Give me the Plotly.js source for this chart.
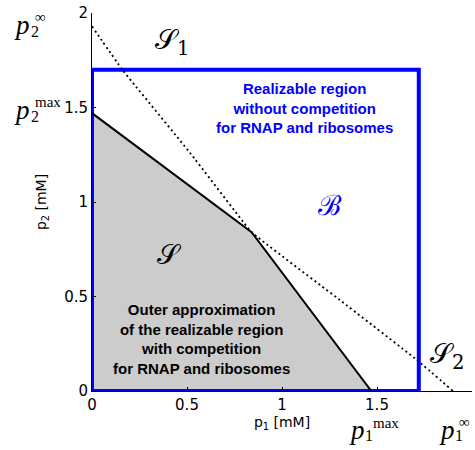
<!DOCTYPE html>
<html><head><meta charset="utf-8">
<script src="https://cdn.plot.ly/plotly-3.0.1.min.js"></script>
<style>html,body{margin:0;padding:0;background:#fff}#chart{width:475px;height:450px}</style>
</head><body><div id="chart"></div>
<script>
// Outer approximation region S (with competition)
const regionX = [0, 0, 0.84, 1.47, 0];
const regionY = [0, 1.47, 0.84, 0, 0];
// Boundary of S (black line)
const boundaryX = [0, 0.84, 1.47];
const boundaryY = [1.47, 0.84, 0];
// Dotted curve (S1 / S2 boundary)
const curveX = [0, 0.16, 0.516, 0.80, 0.84, 1.305, 1.71, 1.90];
const curveY = [1.93, 1.70, 1.26, 0.889, 0.84, 0.481, 0.164, 0];
// Box B (realizable without competition)
const boxX = [0, 0, 1.72, 1.72, 0];
const boxY = [0, 1.70, 1.70, 0, 0];
const tickVals = [0, 0.5, 1, 1.5, 2];
const tickText = ['0', '0.5', '1', '1.5', '2'];

const traces = [
  {x: regionX, y: regionY, mode: 'lines', fill: 'toself', fillcolor: 'rgb(204,204,204)', line: {width: 0}, hoverinfo: 'skip'},
  {x: boxX, y: boxY, mode: 'lines', line: {color: '#0000ff', width: 4}, hoverinfo: 'skip'},
  {x: boundaryX, y: boundaryY, mode: 'lines', line: {color: '#000', width: 2}, hoverinfo: 'skip'},
  {x: curveX, y: curveY, mode: 'lines', line: {color: '#000', width: 1.8, dash: '2px,3px', shape: 'spline', smoothing: 0.4}, hoverinfo: 'skip'}
];

const pFont = {family: 'Liberation Serif, serif', size: 27, color: '#000'};
const subFont = {family: 'Liberation Serif, serif', size: 16, color: '#000'};
const supFont = {family: 'Liberation Serif, serif', size: 15, color: '#000'};
function pa(x, y, text, font) {
  return {x: x, y: y, xref: 'paper', yref: 'paper', text: text, showarrow: false, font: font, xanchor: 'center', yanchor: 'middle', borderpad: 0};
}
const ann = [
  {x: 1.12, y: 1.50, xref: 'x', yref: 'y', text: '<b>Realizable region<br>without competition<br>for RNAP and ribosomes</b>', showarrow: false, font: {family: 'Liberation Sans, Arial, sans-serif', size: 15, color: '#0000ff'}},
  {x: 0.574, y: 0.275, xref: 'x', yref: 'y', text: '<b>Outer approximation<br>of the realizable region<br>with competition<br>for RNAP and ribosomes</b>', showarrow: false, font: {family: 'Liberation Sans, Arial, sans-serif', size: 15, color: '#000'}},
  {x: 0.41, y: 0.72, xref: 'x', yref: 'y', text: '𝒮', showarrow: false, font: {family: 'DejaVu Serif, serif', size: 28, color: '#000'}},
  {x: 1.25, y: 0.98, xref: 'x', yref: 'y', text: 'ℬ', showarrow: false, font: {family: 'DejaVu Serif, serif', size: 28, color: '#0000ff'}},
  {x: 0.42, y: 1.85, xref: 'x', yref: 'y', text: '𝒮<sub>1</sub>', showarrow: false, font: {family: 'DejaVu Serif, serif', size: 28, color: '#000'}},
  {x: 1.87, y: 0.19, xref: 'x', yref: 'y', text: '𝒮<sub>2</sub>', showarrow: false, font: {family: 'DejaVu Serif, serif', size: 28, color: '#000'}},
  // p2 infinity
  pa(-0.184, 0.968, '<i>p</i>', pFont), pa(-0.150, 0.950, '2', subFont), pa(-0.135, 0.989, '∞', supFont),
  // p2 max
  pa(-0.184, 0.743, '<i>p</i>', pFont), pa(-0.150, 0.725, '2', subFont), pa(-0.116, 0.765, 'max', supFont),
  // p1 max
  pa(0.697, -0.103, '<i>p</i>', pFont), pa(0.728, -0.119, '1', subFont), pa(0.773, -0.085, 'max', supFont),
  // p1 infinity
  pa(0.934, -0.103, '<i>p</i>', pFont), pa(0.965, -0.119, '1', subFont), pa(0.981, -0.082, '∞', supFont)
];

const axisCommon = {
  range: [0, 2], tickvals: tickVals, ticktext: tickText, ticks: 'inside', ticklen: 4, tickcolor: '#000',
  showgrid: false, zeroline: false, showline: true, linecolor: '#000', linewidth: 1,
  tickfont: {family: 'DejaVu Sans, sans-serif', size: 15, color: '#000'}, fixedrange: true
};

const layout = {
  width: 475, height: 450,
  margin: {l: 92, r: 3, t: 13, b: 59},
  paper_bgcolor: '#fff', plot_bgcolor: '#fff',
  showlegend: false,
  xaxis: Object.assign({}, axisCommon, {title: {text: 'p<sub>1</sub> [mM]', font: {family: 'DejaVu Sans, sans-serif', size: 14, color: '#000'}, standoff: 0}}),
  yaxis: Object.assign({}, axisCommon, {title: {text: 'p<sub>2</sub> [mM]', font: {family: 'DejaVu Sans, sans-serif', size: 14, color: '#000'}, standoff: 14}}),
  annotations: ann
};

Plotly.newPlot('chart', traces, layout, {displayModeBar: false, staticPlot: true});
</script>
</body></html>
